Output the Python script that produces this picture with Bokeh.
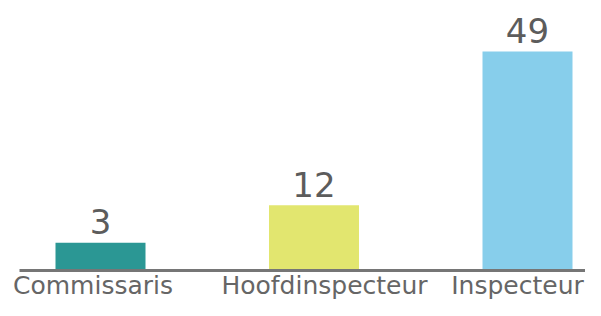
from bokeh.plotting import figure
from bokeh.models import ColumnDataSource, Range1d
from bokeh.core.properties import value
from bokeh.embed import file_html
from bokeh.resources import INLINE

# ---- data ----
categories = ["Commissaris", "Hoofdinspecteur", "Inspecteur"]
counts = [3, 12, 49]
labels = [str(v) for v in counts]
bar_colors = ["#2b9794", "#e2e66f", "#87ceeb"]

# ---- layout constants (pixels) ----
W, H = 585, 300
PX_PER_CAT = 213.5          # horizontal distance between bar centres
FIRST_CENTER_PX = 100       # plot-x of first bar centre
BAR_PX = 90
PX_PER_UNIT = 4.154         # vertical pixels per count
BASE = -3.7                 # bar baseline (count units)
BASELINE_FROM_BOTTOM = 30   # pixels from canvas bottom to baseline
AXIS_LEFT_PX = 19
cat_label_dx = [-7.5, 10.5, -10]

x_start = -FIRST_CENTER_PX / PX_PER_CAT
x_end = x_start + W / PX_PER_CAT
y_start = BASE - BASELINE_FROM_BOTTOM / PX_PER_UNIT
y_end = y_start + H / PX_PER_UNIT

xs = list(range(len(categories)))
src = ColumnDataSource(dict(x=xs, top=counts, label=labels, color=bar_colors,
                            cat=categories, dx=cat_label_dx))

p = figure(width=W, height=H, output_backend="svg", toolbar_location=None,
           x_range=Range1d(x_start, x_end), y_range=Range1d(y_start, y_end),
           min_border=0)
p.axis.visible = False
p.grid.visible = False
p.outline_line_color = None
p.background_fill_color = "white"
p.border_fill_color = "white"

p.vbar(x="x", top="top", bottom=BASE, width=BAR_PX / PX_PER_CAT,
       fill_color="color", line_color=None, source=src)

p.segment(x0=x_start + AXIS_LEFT_PX / PX_PER_CAT, y0=BASE, x1=x_end, y1=BASE,
          line_width=3, line_color="#767676")

p.text(x="x", y="top", text="label", source=src, text_align="center",
       text_baseline="middle", y_offset=-21,
       text_font=value("DejaVu Sans"), text_font_size="34px",
       text_color="#5c5c5c")

p.text(x="x", y=BASE, text="cat", source=src, text_align="center",
       text_baseline="middle", x_offset="dx", y_offset=14.5,
       text_font=value("DejaVu Sans"), text_font_size="25px",
       text_color="#666666")

open("out.html", "w").write(file_html(p, INLINE))
